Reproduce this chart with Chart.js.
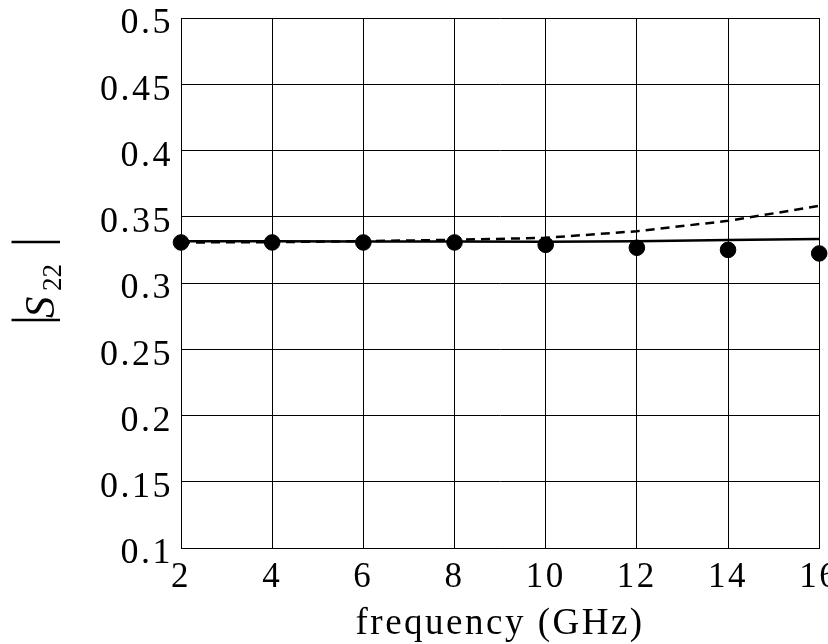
<!DOCTYPE html>
<html>
<head>
<meta charset="utf-8">
<script src="https://cdn.jsdelivr.net/npm/chart.js@4/dist/chart.umd.min.js"></script>
<style>
  html, body { margin: 0; padding: 0; background: #fff; }
  #wrap { width: 828px; height: 644px; }
</style>
</head>
<body>
<div id="wrap"><canvas id="c" width="828" height="644"></canvas></div>
<script>
// frequency in GHz
var freq = [2, 4, 6, 8, 10, 12, 14, 16];
// measured |S22| (dots)
var measured = [0.3306, 0.3306, 0.3306, 0.3306, 0.3288, 0.3266, 0.3250, 0.3223];
// model, solid line
var modelSolid = [0.3316, 0.3315, 0.3314, 0.3313, 0.3311, 0.3316, 0.3324, 0.3333];
// model, dashed line
var modelDashed = [0.3306, 0.3308, 0.3316, 0.3326, 0.3341, 0.3391, 0.3469, 0.3582];

var yTicks = ['0.1', '0.15', '0.2', '0.25', '0.3', '0.35', '0.4', '0.45', '0.5'];

function pts(ys) {
  return freq.map(function(f, i) { return {x: f, y: ys[i]}; });
}

var serif = '"Liberation Serif", "Times New Roman", serif';

// y axis title: |S22 | with italic S and subscript
var yTitle = {
  id: 'yTitle',
  beforeDraw: function(chart) {
    chart.ctx.letterSpacing = '2.5px';
  },
  afterDraw: function(chart) {
    var ctx = chart.ctx;
    ctx.save();
    ctx.letterSpacing = '0px';
    ctx.fillStyle = '#000';
    ctx.translate(53, 280);
    ctx.rotate(-Math.PI / 2);
    ctx.textBaseline = 'alphabetic';
    ctx.textAlign = 'center';
    ctx.font = '52px ' + serif;
    ctx.fillText('|', -40, -4);
    ctx.fillText('|', 38, -4);
    ctx.textAlign = 'left';
    ctx.font = 'italic 43px ' + serif;
    ctx.fillText('S', -38, 1);
    ctx.font = '27px ' + serif;
    ctx.fillText('22', -11, 8);
    ctx.restore();
  }
};

new Chart(document.getElementById('c'), {
  type: 'scatter',
  data: {
    datasets: [
      {
        label: 'measured',
        data: pts(measured),
        showLine: false,
        pointRadius: 7.8,
        pointBackgroundColor: '#000',
        pointBorderColor: '#000',
        clip: false
      },
      {
        label: 'model',
        data: pts(modelSolid),
        showLine: true,
        borderColor: '#000',
        borderWidth: 2.5,
        pointRadius: 0,
        tension: 0
      },
      {
        label: 'model 2',
        data: pts(modelDashed),
        showLine: true,
        borderColor: '#000',
        borderWidth: 2.5,
        borderDash: [9, 6],
        pointRadius: 0,
        tension: 0
      }
    ]
  },
  options: {
    responsive: false,
    animation: false,
    layout: { padding: { top: 18, right: 8, left: 0, bottom: 0 } },
    plugins: {
      legend: { display: false },
      tooltip: { enabled: false }
    },
    scales: {
      x: {
        type: 'linear',
        min: 2,
        max: 16,
        ticks: {
          stepSize: 2,
          color: '#000',
          padding: 9,
          maxRotation: 0,
          font: { family: serif, size: 35 }
        },
        grid: { color: '#000', lineWidth: 1, drawTicks: false },
        border: { color: '#000', width: 1 },
        title: {
          display: true,
          text: 'frequency (GHz)',
          color: '#000',
          padding: { top: 2, bottom: -2 },
          font: { family: serif, size: 37 }
        },
        afterFit: function(s) {
          s.height = 96;
          s.paddingLeft = 0;
          s.paddingRight = 0;
        }
      },
      y: {
        min: 0.1,
        max: 0.5,
        ticks: {
          stepSize: 0.05,
          color: '#000',
          padding: 8,
          labelOffset: 6,
          font: { family: serif, size: 36 },
          callback: function(v, i) { return yTicks[i]; }
        },
        grid: { color: '#000', lineWidth: 1, drawTicks: false },
        border: { color: '#000', width: 1 },
        afterFit: function(s) {
          s.width = 181;
          s.paddingTop = 0;
          s.paddingBottom = 0;
        }
      }
    }
  },
  plugins: [yTitle]
});
</script>
</body>
</html>
